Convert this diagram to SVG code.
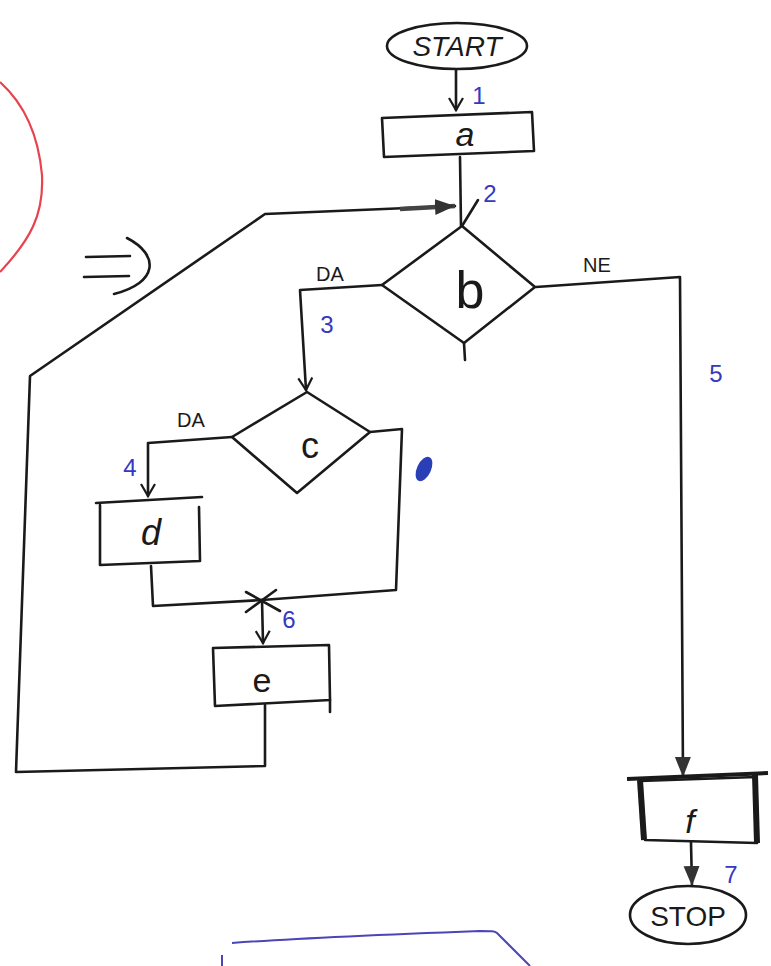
<svg xmlns="http://www.w3.org/2000/svg" width="771" height="966" viewBox="0 0 771 966">
<defs>
<style>
.ln{fill:none;stroke:#1a1a1a;stroke-width:2.6;stroke-linecap:round;stroke-linejoin:round}
.shape{fill:#fff;stroke:#1a1a1a;stroke-width:2.6;stroke-linejoin:round}
.t{font-family:"Liberation Sans",Arial,sans-serif;fill:#1a1a1a}
.lbl{font-family:"Liberation Sans",Arial,sans-serif;fill:#1a1a1a;font-size:20px}
.num{font-family:"Liberation Sans",Arial,sans-serif;fill:#3538c0;font-size:24px}
</style>
<marker id="open" markerWidth="16" markerHeight="16" refX="13" refY="8" orient="auto" markerUnits="userSpaceOnUse">
<path d="M1,1 L13,8 L1,15" fill="none" stroke="#1a1a1a" stroke-width="2.2"/>
</marker>
<marker id="fill" markerWidth="22" markerHeight="18" refX="20" refY="9" orient="auto" markerUnits="userSpaceOnUse">
<path d="M0,1 L20,9 L0,17 Z" fill="#333"/>
</marker>
</defs>
<rect width="771" height="966" fill="#fff"/>

<!-- extra sketch marks -->
<path d="M0,82 C20,100 38,130 42,175 C44,215 30,240 0,272" fill="none" stroke="#e8424e" stroke-width="2.2"/>
<g id="implies" class="ln">
<path d="M86,257 L130,256"/>
<path d="M84,277 L129,276"/>
<path d="M127,238 C160,255 158,283 114,294"/>
</g>
<path d="M222,966 L222,955 M232,943 C300,938 400,934 480,931 C492,931 495,931 497,933 L530,966" fill="none" stroke="#4a45b8" stroke-width="2"/>

<g id="connectors">
<!-- START -> a -->
<path class="ln" d="M456,70 L456,110" marker-end="url(#open)"/>
<!-- a -> b -->
<path class="ln" d="M460,157 L461,226"/>
<!-- loop back -->
<path class="ln" d="M265,705 L265,766 L16,772 L30,376 L265,214 L455,206"/>
<path d="M400,209 L455,206" fill="none" stroke="#444" stroke-width="4.5" marker-end="url(#fill)"/>
<path class="ln" d="M462,226 L478,200"/>
<!-- b DA -> c -->
<path class="ln" d="M382,285 L300,290 L306,390" marker-end="url(#open)"/>
<!-- b bottom stub -->
<path class="ln" d="M464,343 L465,360"/>
<!-- b NE -> f -->
<path class="ln" d="M536,287 L680,277 L683,777" marker-end="url(#fill)"/>
<!-- c DA -> d -->
<path class="ln" d="M232,437 L148,443 L148,496" marker-end="url(#open)"/>
<!-- c NO -> merge -->
<path class="ln" d="M370,432 L402,429 L396,590 L262,600"/>
<!-- d -> merge -->
<path class="ln" d="M151,566 L153,606 L262,600"/>
<!-- merge X -->
<path class="ln" d="M246,592 L280,611 M276,590 L246,612"/>
<!-- merge -> e -->
<path class="ln" d="M262,600 L263,643" marker-end="url(#open)"/>
<!-- f -> STOP -->
<path class="ln" d="M690,800 L692,886" marker-end="url(#fill)"/>
</g>

<g id="start">
<ellipse class="shape" cx="457" cy="46" rx="70" ry="23"/>
<text class="t" x="457" y="56" font-size="28" text-anchor="middle" font-style="italic">START</text>
</g>
<g id="a">
<path class="shape" d="M382,118 L532,112 L534,151 L384,157 Z"/>
<text class="t" x="465" y="146" font-size="34" text-anchor="middle" font-style="italic">a</text>
</g>
<g id="b">
<path class="shape" d="M462,226 L535,287 L464,343 L382,285 Z"/>
<text class="t" x="470" y="308" font-size="52" text-anchor="middle">b</text>
</g>
<g id="c">
<path class="shape" d="M307,392 L370,432 L297,493 L232,437 Z"/>
<text class="t" x="310" y="458" font-size="36" text-anchor="middle">c</text>
</g>
<g id="d">
<path class="ln" d="M96,503 L202,497"/>
<path class="ln" d="M100,505 L100,565 L200,561 L199,507"/>
<text class="t" x="151" y="545" font-size="36" text-anchor="middle" font-style="italic">d</text>
</g>
<g id="e">
<path class="shape" d="M213,648 L329,645 L330,700 L215,706 Z"/>
<path class="ln" d="M330,700 L330,712"/>
<text class="t" x="262" y="692" font-size="34" text-anchor="middle">e</text>
</g>
<g id="f">
<path class="shape" d="M640,781 L756,777 L757,843 L645,840 Z"/>
<path d="M627,779 L768,773" stroke="#1a1a1a" stroke-width="4" fill="none"/>
<path d="M640,780 L644,840" stroke="#1a1a1a" stroke-width="6" fill="none"/>
<path d="M755,775 L757,843" stroke="#1a1a1a" stroke-width="6" fill="none"/>
<text class="t" x="690" y="833" font-size="34" text-anchor="middle" font-style="italic">f</text>
</g>
<g id="stop">
<ellipse class="shape" cx="688" cy="915" rx="58" ry="29"/>
<text class="t" x="688" y="926" font-size="28" text-anchor="middle">STOP</text>
</g>

<g id="labels">
<text class="lbl" x="330" y="281" text-anchor="middle">DA</text>
<text class="lbl" x="597" y="272" text-anchor="middle">NE</text>
<text class="lbl" x="191" y="427" text-anchor="middle">DA</text>
<text class="num" x="479" y="104" text-anchor="middle">1</text>
<text class="num" x="490" y="202" text-anchor="middle">2</text>
<text class="num" x="327" y="333" text-anchor="middle">3</text>
<text class="num" x="130" y="476" font-size="28" text-anchor="middle">4</text>
<text class="num" x="716" y="382" text-anchor="middle" fill="#8a78e0">5</text>
<text class="num" x="289" y="628" text-anchor="middle">6</text>
<text class="num" x="731" y="883" font-size="30" text-anchor="middle">7</text>
<ellipse cx="424" cy="469" rx="7" ry="13" transform="rotate(25 424 469)" fill="#2a3fb5"/>
</g>
</svg>
